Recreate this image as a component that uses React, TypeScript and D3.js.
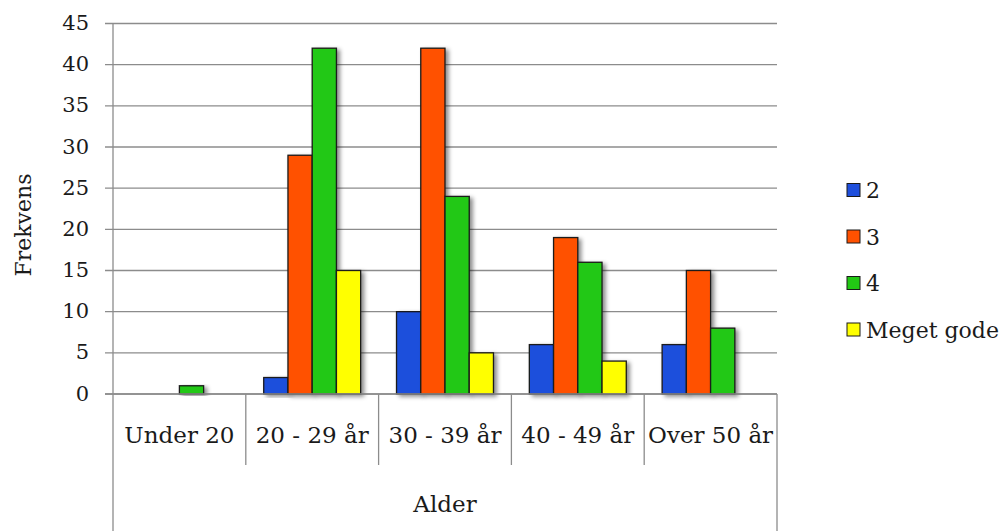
import React from "react";
import * as d3 from "d3";

// Age groups on the category axis
const categories = ["Under 20", "20 - 29 år", "30 - 39 år", "40 - 49 år", "Over 50 år"];
// Rating series
const seriesNames = ["2", "3", "4", "Meget gode"];
const values2 = [0, 2, 10, 6, 6];
const values3 = [0, 29, 42, 19, 15];
const values4 = [1, 42, 24, 16, 8];
const valuesMegetGode = [0, 15, 5, 4, 0];
const yTicks = [0, 5, 10, 15, 20, 25, 30, 35, 40, 45];
const seriesColors = ["#1f4fdc", "#ff5100", "#22c814", "#ffff00"];

const seriesValues = [values2, values3, values4, valuesMegetGode];

const W = 1003;
const H = 531;
const FONT = "'DejaVu Serif', 'Liberation Serif', serif";

export default function App() {
  const left = 113;
  const right = 777;
  const top = 23.5;
  const bottom = 394;

  const x0 = d3.scaleBand<string>().domain(categories).range([left, right]).padding(0);
  const x1 = d3
    .scaleBand<string>()
    .domain(seriesNames)
    .range([0, x0.bandwidth()])
    .paddingInner(0)
    .paddingOuter(0.74);
  const y = d3.scaleLinear().domain([0, 45]).range([bottom, top]);

  const grid = "#8c8c8c";
  const textColor = "#1a1a1a";

  return (
    <svg
      width={W}
      height={H}
      style={{ position: "absolute", left: 0, top: 0, background: "#fff" }}
      fontFamily={FONT}
    >
      <defs>
        <filter id="barShadow" x="-20%" y="-10%" width="160%" height="130%">
          <feDropShadow dx="3" dy="2" stdDeviation="2" floodColor="#000" floodOpacity="0.45" />
        </filter>
      </defs>
      <rect x={0} y={0} width={W} height={H} fill="#fff" />

      {/* horizontal gridlines with tick stubs */}
      {yTicks.map((t) => (
        <line
          key={"g" + t}
          x1={left - 8}
          x2={right}
          y1={y(t)}
          y2={y(t)}
          stroke={grid}
          strokeWidth={1.3}
        />
      ))}

      {/* y tick labels */}
      {yTicks.map((t) => (
        <text
          key={"t" + t}
          x={89}
          y={y(t) + 1}
          textAnchor="end"
          dominantBaseline="middle"
          fontSize={21}
          fill={textColor}
        >
          {t}
        </text>
      ))}

      {/* bars */}
      {categories.map((c, ci) => (
        <g key={c} transform={`translate(${x0(c)},0)`}>
          {seriesNames.map((s, si) => {
            const v = seriesValues[si][ci];
            if (v <= 0) return null;
            return (
              <rect
                key={s}
                x={x1(s)}
                y={y(v)}
                width={x1.bandwidth()}
                height={y(0) - y(v)}
                fill={seriesColors[si]}
                stroke="#1a1a1a"
                strokeWidth={1.3}
                filter="url(#barShadow)"
              />
            );
          })}
        </g>
      ))}

      {/* axes frame */}
      <line x1={left} x2={left} y1={top} y2={H} stroke={grid} strokeWidth={1.3} />
      <line x1={right} x2={right} y1={bottom} y2={H} stroke={grid} strokeWidth={1.3} />
      <line x1={left - 8} x2={right} y1={bottom} y2={bottom} stroke={grid} strokeWidth={1.3} />
      {categories.slice(1).map((c) => (
        <line
          key={"sep" + c}
          x1={x0(c)}
          x2={x0(c)}
          y1={bottom}
          y2={465}
          stroke={grid}
          strokeWidth={1.3}
        />
      ))}

      {/* category labels */}
      {categories.map((c) => (
        <text
          key={"c" + c}
          x={(x0(c) as number) + x0.bandwidth() / 2}
          y={443}
          textAnchor="middle"
          fontSize={23}
          fill={textColor}
        >
          {c}
        </text>
      ))}

      {/* axis titles */}
      <text x={(left + right) / 2} y={512} textAnchor="middle" fontSize={23} fill={textColor}>
        Alder
      </text>
      <text
        transform={`translate(31,225) rotate(-90)`}
        textAnchor="middle"
        fontSize={22}
        fill={textColor}
      >
        Frekvens
      </text>

      {/* legend */}
      {seriesNames.map((s, i) => {
        const cy = 190 + i * 46.5;
        return (
          <g key={"l" + s}>
            <rect
              x={847}
              y={cy - 6.5}
              width={13}
              height={13}
              fill={seriesColors[i]}
              stroke="#1a1a1a"
              strokeWidth={1}
            />
            <text x={866} y={cy + 8} fontSize={22} fill={textColor}>
              {s}
            </text>
          </g>
        );
      })}
    </svg>
  );
}
